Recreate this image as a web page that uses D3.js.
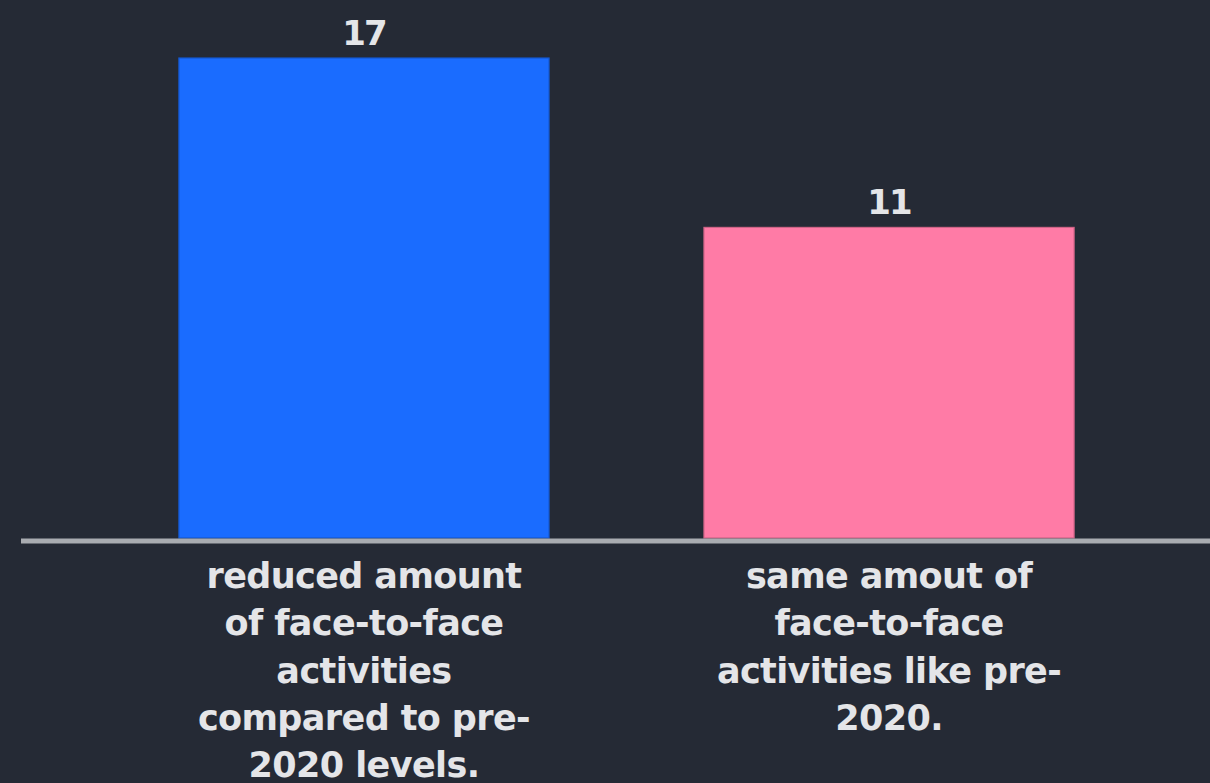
<!DOCTYPE html>
<html>
<head>
<meta charset="utf-8">
<script src="https://cdn.jsdelivr.net/npm/d3@7"></script>
<style>
  html, body { margin: 0; padding: 0; background: #252a35; }
  svg { display: block; }
</style>
</head>
<body>
<div id="chart"></div>
<script>
(() => {
  const width = 1210;
  const height = 783;

  const categories = [
    "reduced amount of face-to-face activities compared to pre-2020 levels.",
    "same amout of face-to-face activities like pre-2020."
  ];
  const values = [17, 11];
  const tickLines = [
    ["reduced amount", "of face-to-face", "activities", "compared to pre-", "2020 levels."],
    ["same amout of", "face-to-face", "activities like pre-", "2020."]
  ];
  const colors = ["#1a6cff", "#ff7ba6"];

  const data = categories.map((c, i) => ({ cat: c, value: values[i], lines: tickLines[i], color: colors[i] }));

  const baseY = 538;

  const svg = d3
    .select("#chart")
    .append("svg")
    .attr("width", width)
    .attr("height", height);

  const x = d3
    .scaleBand()
    .domain(categories)
    .range([24, 1229])
    .padding(0.295);

  const y = d3.scaleLinear().domain([0, 17]).range([baseY, 58]);

  // bars
  svg
    .selectAll("rect.bar")
    .data(data)
    .join("rect")
    .attr("class", "bar")
    .attr("x", (d) => x(d.cat))
    .attr("y", (d) => y(d.value))
    .attr("width", x.bandwidth())
    .attr("height", (d) => baseY - y(d.value))
    .attr("fill", (d) => d.color)
    .attr("stroke", (d) => d3.color(d.color).darker(0.6))
    .attr("stroke-width", 1.2);

  // value labels
  svg
    .selectAll("text.value")
    .data(data)
    .join("text")
    .attr("class", "value")
    .attr("x", (d) => x(d.cat) + x.bandwidth() / 2)
    .attr("y", (d) => y(d.value) - 13)
    .attr("text-anchor", "middle")
    .attr("fill", "#e4e5e8")
    .style("font-family", "'DejaVu Sans', sans-serif")
    .style("font-weight", "bold")
    .style("font-size", "34px")
    .style("letter-spacing", "-2px")
    .text((d) => d.value);

  // axis line
  svg
    .append("line")
    .attr("x1", 21)
    .attr("x2", width)
    .attr("y1", baseY + 3)
    .attr("y2", baseY + 3)
    .attr("stroke", "#a9acb1")
    .attr("stroke-width", 5);

  // category labels
  const labels = svg
    .selectAll("text.cat")
    .data(data)
    .join("text")
    .attr("class", "cat")
    .attr("text-anchor", "middle")
    .attr("fill", "#e4e5e8")
    .style("font-family", "'DejaVu Sans', sans-serif")
    .style("font-weight", "bold")
    .style("font-size", "35px")
    .style("letter-spacing", "-0.6px");

  labels
    .selectAll("tspan")
    .data((d) => d.lines.map((l) => ({ l, cx: x(d.cat) + x.bandwidth() / 2 })))
    .join("tspan")
    .attr("x", (d) => d.cx)
    .attr("y", (d, i) => 588 + i * 47.3)
    .text((d) => d.l);
})();
</script>
</body>
</html>
